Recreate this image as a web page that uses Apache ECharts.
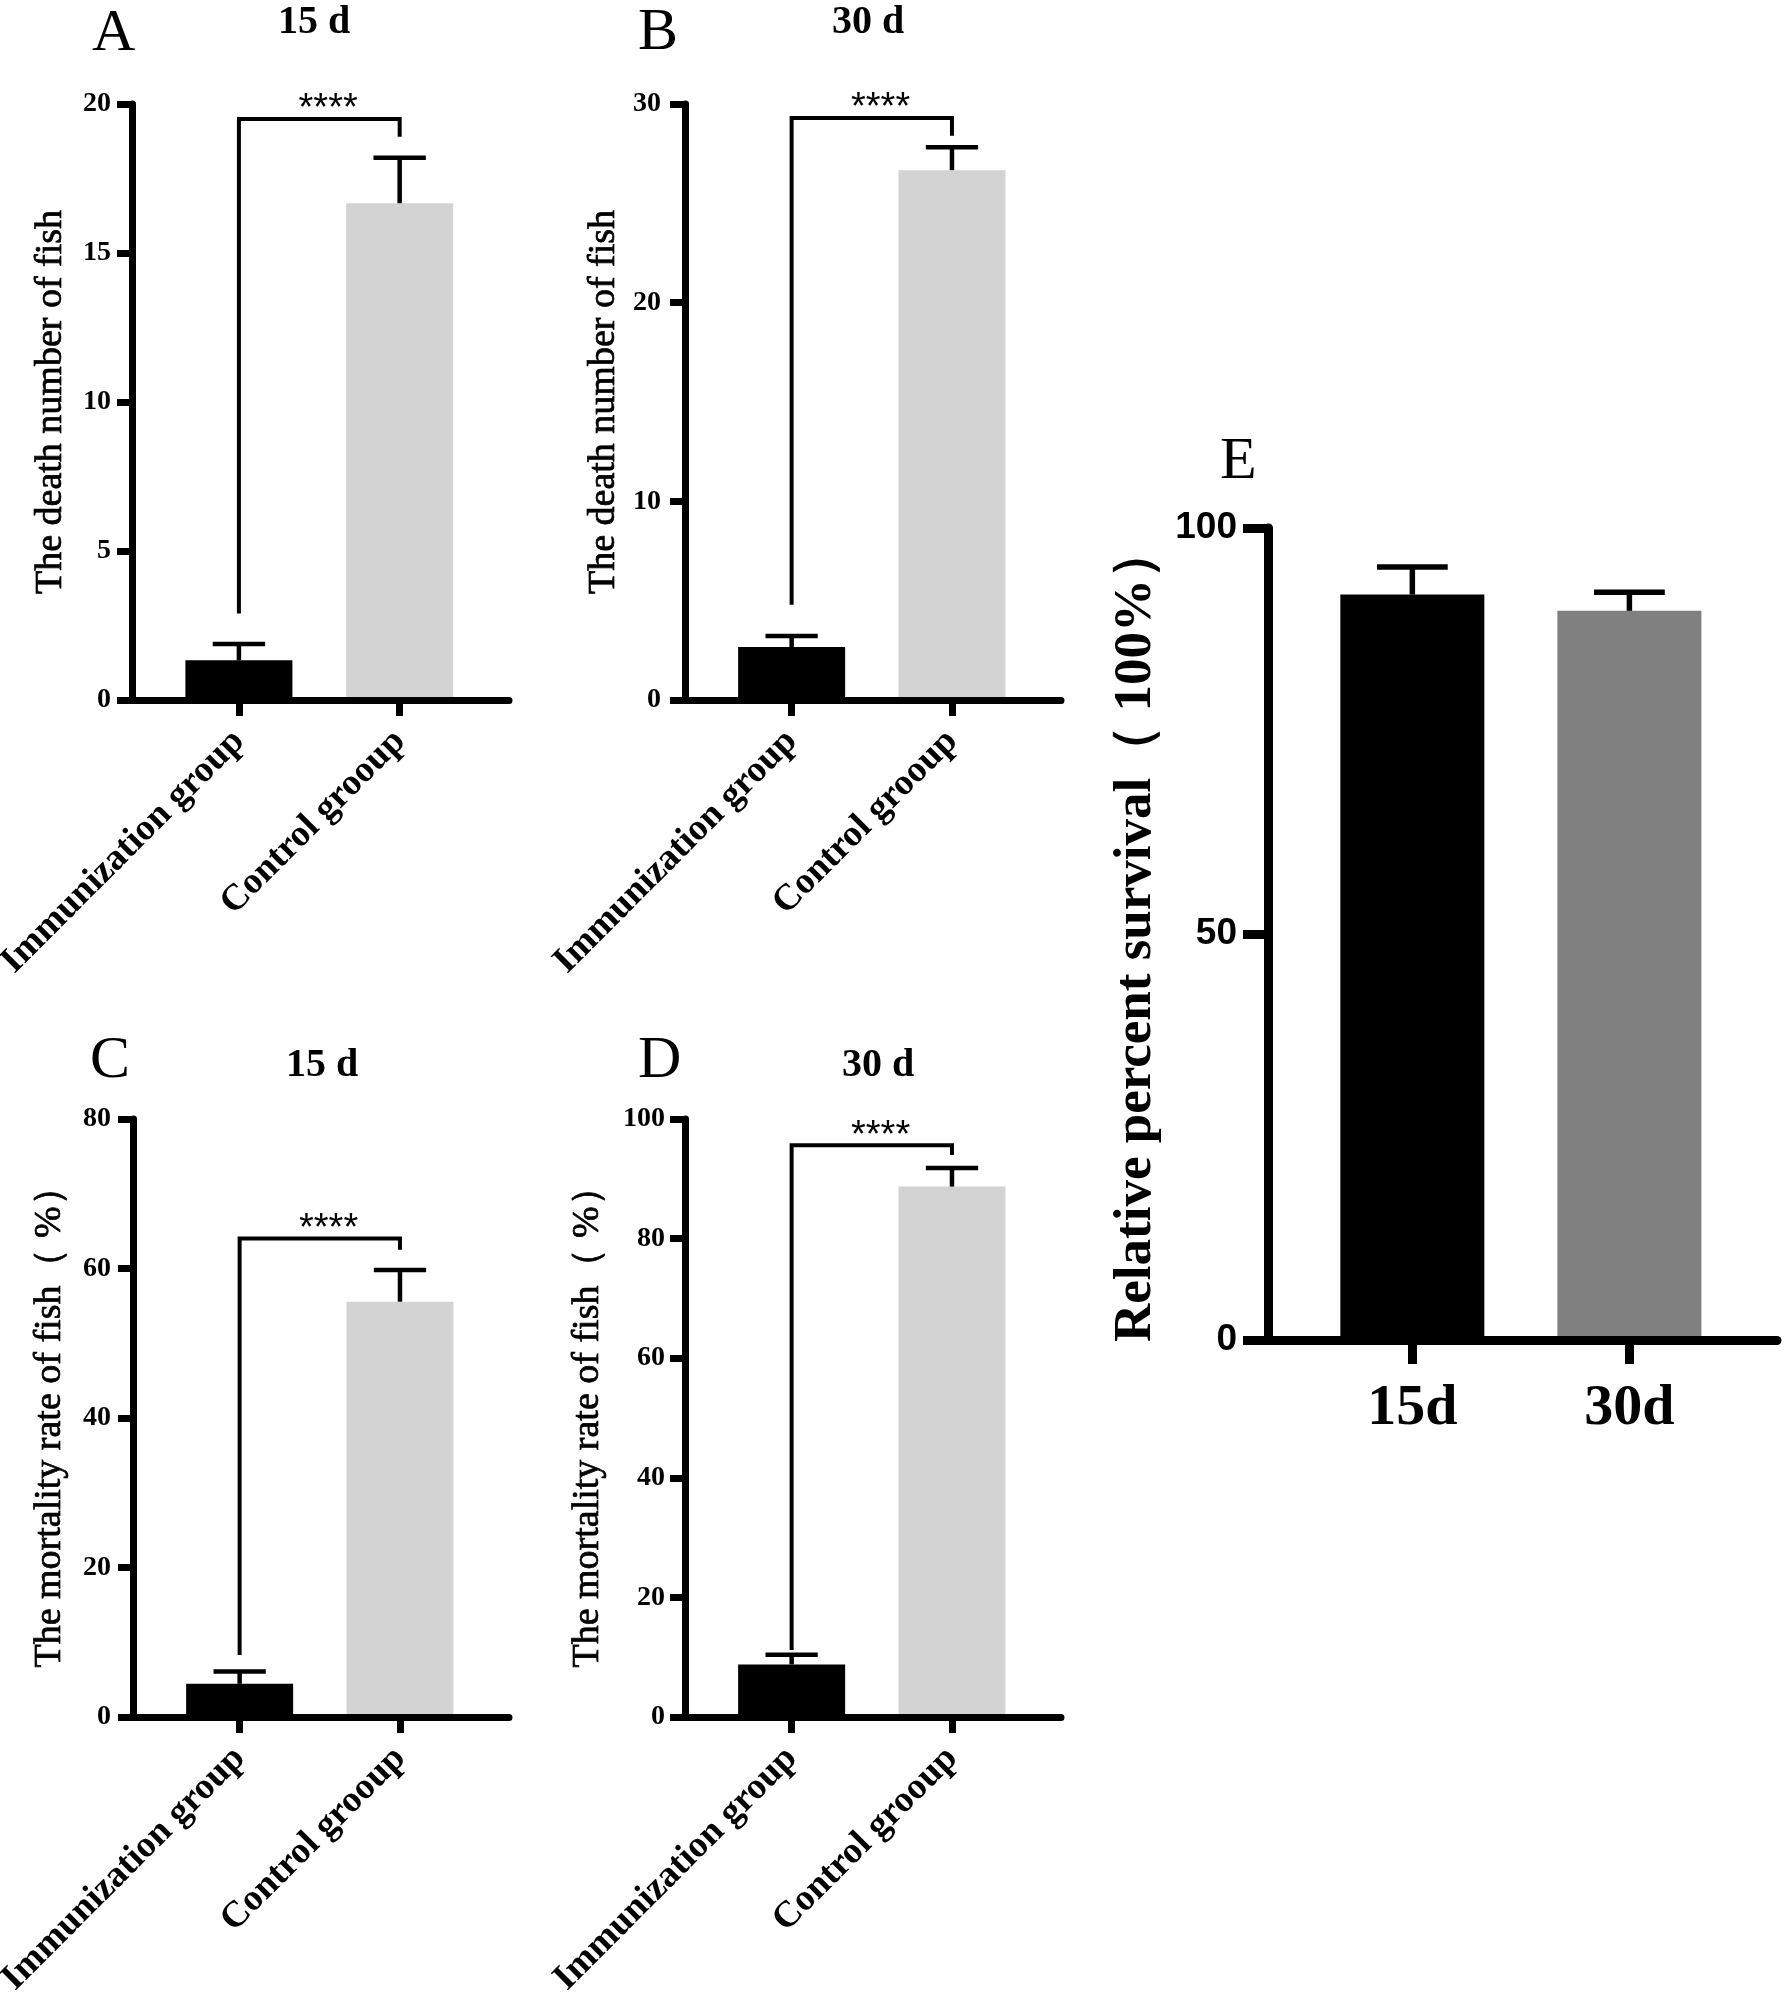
<!DOCTYPE html>
<html>
<head>
<meta charset="utf-8">
<title>Immunization challenge results</title>
<script src="https://cdn.jsdelivr.net/npm/echarts@6.0.0/dist/echarts.min.js"></script>
<style>
  html, body { margin: 0; padding: 0; background: #fff; }
  #chart { width: 1784px; height: 2001px; }
</style>
</head>
<body>
<div id="chart"></div>
<script>
// groups and values
const groupNames = ["Immunization group", "Control grooup"];

const deathTicks15 = [0, 5, 10, 15, 20];
const deathMean15 = [1.33, 16.67];
const deathErr15 = [0.55, 1.53];
const deathBracket15 = [2.9, 19.5, 18.9]; // left leg end, top, right leg end

const deathTicks30 = [0, 10, 20, 30];
const deathMean30 = [2.67, 26.67];
const deathErr30 = [0.55, 1.15];
const deathBracket30 = [4.8, 29.3, 28.4];

const rateTicks15 = [0, 20, 40, 60, 80];
const rateMean15 = [4.44, 55.56];
const rateErr15 = [1.66, 4.24];
const rateBracket15 = [8.3, 64.0, 62.5];

const rateTicks30 = [0, 20, 40, 60, 80, 100];
const rateMean30 = [8.8, 88.7];
const rateErr30 = [1.6, 3.1];
const rateBracket30 = [11.2, 95.6, 94.0];

const rpsDays = ["15d", "30d"];
const rpsTicks = [0, 50, 100];
const rpsMean = [91.8, 89.8];
const rpsErr = [3.4, 2.3];

const SERIF = '"Liberation Serif", "Times New Roman", serif';
const SANS = '"Liberation Sans", Arial, sans-serif';

const chart = echarts.init(document.getElementById("chart"));

const panels = [
  {
    grid: { left: 132, top: 104, width: 377, height: 596 },
    ticks: deathTicks15, mean: deathMean15, err: deathErr15, bracket: deathBracket15,
    names: groupNames, colors: ["#000000", "#d3d3d3"],
    yName: "The death number of fish", nameGap: 62, labelMargin: 21
  },
  {
    grid: { left: 685, top: 104, width: 376, height: 596 },
    ticks: deathTicks30, mean: deathMean30, err: deathErr30, bracket: deathBracket30,
    names: groupNames, colors: ["#000000", "#d3d3d3"],
    yName: "The death number of fish", nameGap: 62, labelMargin: 24
  },
  {
    grid: { left: 133, top: 1119, width: 376, height: 598 },
    ticks: rateTicks15, mean: rateMean15, err: rateErr15, bracket: rateBracket15,
    names: groupNames, colors: ["#000000", "#d3d3d3"],
    yName: "The mortality rate of fish（ %）", nameGap: 64, labelMargin: 22
  },
  {
    grid: { left: 685, top: 1119, width: 376, height: 598 },
    ticks: rateTicks30, mean: rateMean30, err: rateErr30, bracket: rateBracket30,
    names: groupNames, colors: ["#000000", "#d3d3d3"],
    yName: "The mortality rate of fish（ %）", nameGap: 78, labelMargin: 20
  },
  {
    grid: { left: 1268, top: 528, width: 509, height: 812 },
    ticks: rpsTicks, mean: rpsMean, err: rpsErr, bracket: null,
    names: rpsDays, colors: ["#000000", "#808080"],
    yName: "Relative percent survival（ 100%）", nameGap: 105, labelMargin: 31,
    big: true
  }
];

function makeErrorBar(lineWidth) {
  return function (params, api) {
    const x = api.value(0);
    const mean = api.value(1);
    const err = api.value(2);
    const base = api.coord([x, mean]);
    const top = api.coord([x, mean + err]);
    const capL = api.coord([x - 0.163, mean + err]);
    const capR = api.coord([x + 0.163, mean + err]);
    const style = { stroke: "#000", lineWidth: lineWidth };
    return {
      type: "group",
      children: [
        { type: "line", shape: { x1: base[0], y1: base[1], x2: top[0], y2: top[1] }, style: style },
        { type: "line", shape: { x1: capL[0], y1: capL[1], x2: capR[0], y2: capR[1] }, style: style }
      ]
    };
  };
}

function renderBracket(params, api) {
  const a = api.coord([0, api.value(0)]);
  const b = api.coord([0, api.value(1)]);
  const c = api.coord([1, api.value(1)]);
  const d = api.coord([1, api.value(2)]);
  const mid = api.coord([0.555, api.value(1)]);
  return {
    type: "group",
    children: [
      {
        type: "polyline",
        shape: { points: [a, b, c, d] },
        style: { stroke: "#000", lineWidth: 4, fill: null }
      },
      {
        type: "text",
        style: {
          text: "****", x: mid[0], y: mid[1] - 9,
          textAlign: "center", textVerticalAlign: "middle",
          font: "38px " + SANS, fill: "#000"
        }
      }
    ]
  };
}

const grids = [];
const xAxes = [];
const yAxes = [];
const series = [];

panels.forEach((p, i) => {
  const axisW = p.big ? 9 : 7;
  grids.push(Object.assign({ containLabel: false, outerBoundsMode: "none" }, p.grid));

  xAxes.push({
    type: "value",
    gridIndex: i,
    min: -0.665,
    max: 1.68,
    z: 10,
    splitLine: { show: false },
    axisLine: { show: true, onZero: false, lineStyle: { color: "#000", width: axisW } },
    axisTick: {
      show: true, customValues: [0, 1], length: p.big ? 24 : 16,
      lineStyle: { color: "#000", width: axisW }
    },
    axisLabel: p.big ? {
      customValues: [0, 1],
      formatter: v => p.names[Math.round(v)],
      margin: 40,
      color: "#000",
      fontFamily: SERIF,
      fontWeight: "bold",
      fontSize: 58
    } : {
      customValues: [0, 1],
      formatter: v => p.names[Math.round(v)],
      rotate: 45,
      margin: 36,
      color: "#000",
      fontFamily: SERIF,
      fontWeight: "bold",
      fontSize: 37
    }
  });

  yAxes.push({
    type: "value",
    gridIndex: i,
    min: p.ticks[0],
    max: p.ticks[p.ticks.length - 1],
    interval: p.ticks[1] - p.ticks[0],
    z: 10,
    splitLine: { show: false },
    axisLine: { show: true, onZero: false, lineStyle: { color: "#000", width: axisW } },
    axisTick: { show: true, length: p.big ? 25 : 15, lineStyle: { color: "#000", width: axisW } },
    axisLabel: {
      margin: p.labelMargin,
      color: "#000",
      fontFamily: p.big ? SANS : SERIF,
      fontWeight: "bold",
      fontSize: p.big ? 37 : 28
    },
    name: p.yName,
    nameLocation: "middle",
    nameGap: p.nameGap,
    nameTextStyle: {
      color: "#000",
      fontFamily: SERIF,
      fontWeight: p.big ? "bold" : "normal",
      fontSize: p.big ? 53 : 38,
      textBorderColor: "#000",
      textBorderWidth: p.big ? 0 : 0.7
    }
  });

  series.push({
    type: "bar",
    xAxisIndex: i,
    yAxisIndex: i,
    barWidth: p.big ? 144 : 107,
    z: 2,
    data: p.mean.map((v, k) => ({ value: [k, v], itemStyle: { color: p.colors[k] } }))
  });

  series.push({
    type: "custom",
    xAxisIndex: i,
    yAxisIndex: i,
    z: 3,
    renderItem: makeErrorBar(p.big ? 5.5 : 4.5),
    data: p.mean.map((v, k) => [k, v, p.err[k]])
  });

  if (p.bracket) {
    series.push({
      type: "custom",
      xAxisIndex: i,
      yAxisIndex: i,
      z: 3,
      renderItem: renderBracket,
      data: [p.bracket]
    });
  }
});

function label(text, x, y, size, bold, align) {
  return {
    type: "text",
    x: x,
    y: y,
    style: {
      text: text,
      textAlign: align || "left",
      textVerticalAlign: "middle",
      font: (bold ? "bold " : "") + size + "px " + SERIF,
      fill: "#000"
    }
  };
}

chart.setOption({
  animation: false,
  backgroundColor: "#fff",
  grid: grids,
  xAxis: xAxes,
  yAxis: yAxes,
  series: series,
  graphic: [
    label("A", 92, 34, 60, false),
    label("15 d", 314, 23, 40, true, "center"),
    label("B", 638, 33, 60, false),
    label("30 d", 868, 23, 40, true, "center"),
    label("C", 90, 1061, 60, false),
    label("15 d", 322, 1066, 40, true, "center"),
    label("D", 638, 1061, 60, false),
    label("30 d", 878, 1066, 40, true, "center"),
    label("E", 1220, 462, 60, false)
  ]
});

window.addEventListener("resize", () => {
  chart.resize();
});
</script>
</body>
</html>
